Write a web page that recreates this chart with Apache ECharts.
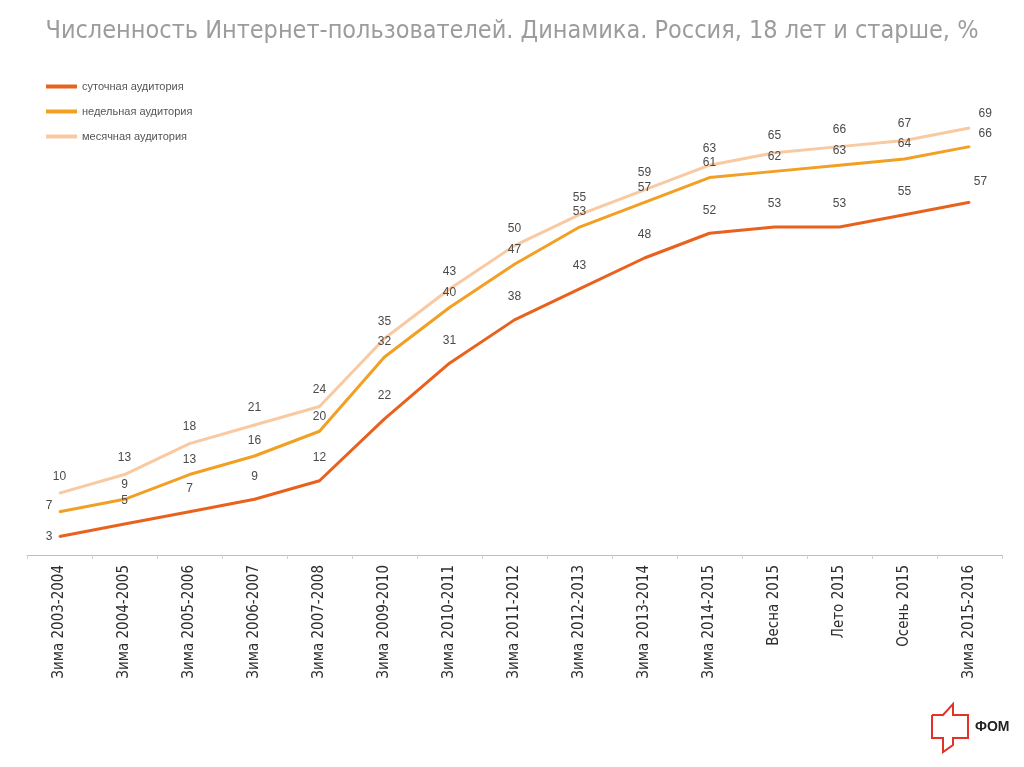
<!DOCTYPE html>
<html>
<head>
<meta charset="utf-8">
<script src="https://cdn.jsdelivr.net/npm/echarts@6/dist/echarts.min.js"></script>
<style>html,body{margin:0;padding:0;background:#fff}#c{width:1024px;height:767px}</style>
</head>
<body>
<div id="c"></div>
<script>
const categories = ['Зима 2003-2004','Зима 2004-2005','Зима 2005-2006','Зима 2006-2007','Зима 2007-2008','Зима 2009-2010','Зима 2010-2011','Зима 2011-2012','Зима 2012-2013','Зима 2013-2014','Зима 2014-2015','Весна 2015','Лето 2015','Осень 2015','Зима 2015-2016'];
const daily = [3,5,7,9,12,22,31,38,43,48,52,53,53,55,57];
const weekly = [7,9,13,16,20,32,40,47,53,57,61,62,63,64,66];
const monthly = [10,13,18,21,24,35,43,50,55,59,63,65,66,67,69];
const seriesNames = ['суточная аудитория','недельная аудитория','месячная аудитория'];
const colors = ['#E8621E','#F2A024','#F9C9A2'];

function mk(name, values, color, dist, firstLabel, lastLabel) {
  const data = values.map((v, i) => {
    if (i === 0 && firstLabel) return {value: v, label: firstLabel};
    if (i === values.length - 1 && lastLabel) return {value: v, label: lastLabel};
    return v;
  });
  return {
    name, type: 'line', data, symbol: 'circle', symbolSize: 2, showSymbol: true, smooth: false,
    lineStyle: {color, width: 3}, itemStyle: {color},
    label: {show: true, position: 'top', distance: dist, color: '#4a4a4a', fontSize: 12, fontFamily: 'Liberation Sans'}
  };
}

const chart = echarts.init(document.getElementById('c'));
chart.setOption({
  animation: false,
  title: {
    text: 'Численность Интернет-пользователей. Динамика. Россия, 18 лет и старше, %',
    left: 'center', top: 14,
    textStyle: {color: '#9c9c9c', fontSize: 25, fontWeight: 'normal', fontFamily: 'DejaVu Sans Condensed, sans-serif'}
  },
  legend: {
    orient: 'vertical', left: 41, top: 76, itemGap: 14,
    itemWidth: 31, itemHeight: 4, icon: 'rect',
    textStyle: {color: '#555', fontSize: 11, fontFamily: 'Liberation Sans'},
    data: seriesNames
  },
  grid: {left: 27, right: 22, top: 60, bottom: 212},
  xAxis: {
    type: 'category', data: categories, boundaryGap: true,
    axisLine: {lineStyle: {color: '#bdbdbd', width: 1}},
    axisTick: {show: true, lineStyle: {color: '#d0d0d0'}, length: 4},
    axisLabel: {rotate: 90, color: '#2e2e2e', fontSize: 15, fontFamily: 'DejaVu Sans Condensed, sans-serif', margin: 10}
  },
  yAxis: {type: 'value', min: 0, max: 80, show: false, splitLine: {show: false}},
  series: [
    mk(seriesNames[0], daily, colors[0], 16, {position: 'left', distance: 6}, {position: 'top', offset: [11, 0], distance: 14}),
    mk(seriesNames[1], weekly, colors[1], 8, {position: 'left', distance: 6, offset: [0, -6]}, {position: 'right', distance: 8, offset: [0, -13]}),
    mk(seriesNames[2], monthly, colors[2], 10, {position: 'top', distance: 9}, {position: 'right', distance: 8, offset: [0, -14]})
  ],
  graphic: [
    {type: 'polyline', shape: {points: [[932,715],[943,715],[953,704],[953,715],[968,715],[968,738],[953,738],[953,745],[943,752],[943,738],[932,738],[932,715]]},
     style: {stroke: '#E53228', lineWidth: 2, fill: 'none'}},
    {type: 'text', left: 975, top: 720, style: {text: 'ФОМ', fill: '#222', font: 'bold 14px Liberation Sans'}}
  ]
});
</script>
</body>
</html>
